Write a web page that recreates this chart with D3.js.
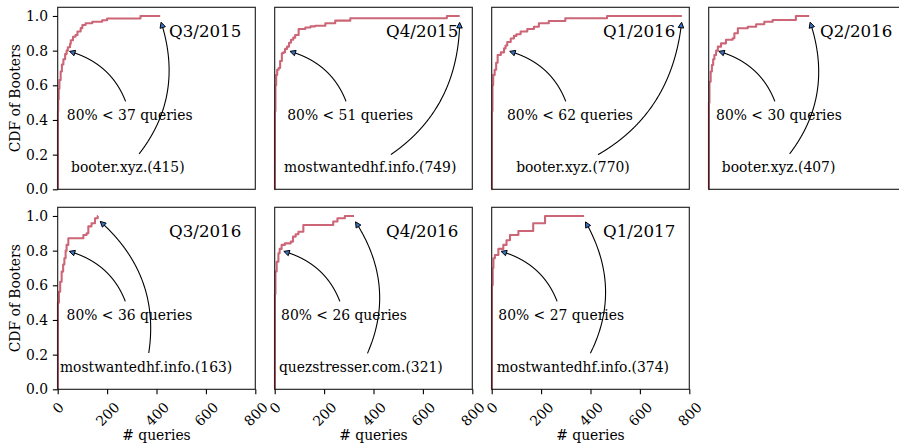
<!DOCTYPE html>
<html>
<head>
<meta charset="utf-8">
<script src="https://cdn.jsdelivr.net/npm/d3@7"></script>
<style>
  body { margin: 0; background: #fff; }
  svg text { font-family: "DejaVu Serif", serif; fill: #000; }
</style>
</head>
<body>
<svg id="fig" width="899" height="446"></svg>
<script>
// ---- data -------------------------------------------------------------
const quarters   = ["Q3/2015", "Q4/2015", "Q1/2016", "Q2/2016", "Q3/2016", "Q4/2016", "Q1/2017"];
const topDomains = ["booter.xyz.", "mostwantedhf.info.", "booter.xyz.", "booter.xyz.",
                    "mostwantedhf.info.", "quezstresser.com.", "mostwantedhf.info."];
const maxQueries = [415, 749, 770, 407, 163, 321, 374];
const p80Queries = [37, 51, 62, 30, 36, 26, 27];

// empirical CDF steps: [queries, fraction of booters]
const cdfQ3_2015 = [[0,0],[1,0.45],[2,0.52],[4,0.58],[7,0.63],[12,0.68],[17,0.72],[23,0.75],[30,0.78],
  [36,0.80],[41,0.82],[50,0.84],[53,0.86],[62,0.88],[72,0.89],[80,0.91],[93,0.93],[100,0.948],
  [113,0.958],[140,0.967],[180,0.975],[200,0.985],[335,1.0],[415,1.0]];
const cdfQ4_2015 = [[0,0],[1,0.45],[3,0.6],[6,0.66],[10,0.69],[16,0.70],[22,0.74],[29,0.785],[35,0.79],
  [42,0.81],[50,0.823],[58,0.845],[66,0.863],[75,0.875],[83,0.89],[97,0.925],[124,0.933],[145,0.94],
  [164,0.944],[205,0.958],[245,0.973],[306,0.987],[697,1.0],[749,1.0]];
const cdfQ1_2016 = [[0,0],[1,0.45],[3,0.6],[6,0.66],[12,0.69],[18,0.73],[24,0.775],[37,0.79],[50,0.813],
  [56,0.83],[63,0.85],[77,0.87],[90,0.885],[100,0.895],[117,0.91],[144,0.925],[171,0.938],[191,0.958],
  [231,0.971],[298,0.987],[467,1.0],[770,1.0]];
const cdfQ2_2016 = [[0,0],[1,0.5],[3,0.62],[8,0.68],[13,0.717],[18,0.75],[23,0.775],[30,0.80],[37,0.823],
  [50,0.842],[70,0.863],[97,0.871],[104,0.9],[118,0.929],[158,0.938],[192,0.952],[225,0.967],
  [259,0.977],[353,1.0],[407,1.0]];
const cdfQ3_2016 = [[0,0],[1,0.5],[5,0.563],[10,0.62],[16,0.679],[22,0.72],[27,0.756],[32,0.80],
  [36,0.833],[43,0.871],[104,0.89],[117,0.9],[124,0.94],[137,0.958],[151,0.987],[162,1.0],[163,1.0]];
const cdfQ4_2016 = [[0,0],[1,0.55],[3,0.68],[8,0.736],[15,0.785],[20,0.81],[28,0.833],[41,0.842],
  [65,0.852],[74,0.881],[85,0.895],[96,0.909],[116,0.948],[237,0.968],[254,0.987],[284,1.0],[321,1.0]];
const cdfQ1_2017 = [[0,0],[1,0.6],[4,0.7],[7,0.756],[13,0.775],[27,0.81],[47,0.833],[60,0.86],[74,0.89],
  [108,0.913],[168,0.958],[216,1.0],[374,1.0]];
const cdfSeries = [cdfQ3_2015, cdfQ4_2015, cdfQ1_2016, cdfQ2_2016, cdfQ3_2016, cdfQ4_2016, cdfQ1_2017];

const xTicks = [0, 200, 400, 600, 800];
const yTicks = [0, 0.2, 0.4, 0.6, 0.8, 1.0];

// ---- layout -----------------------------------------------------------
const PT = 100 / 72;                 // px per point
const panel = { left: 57.7, top: 7.3, w: 197.6, h: 182, dx: 217, dy: 200 };
const domainLabelX = [54, 38, 99, 53, 9, 17, 20];   // left edge of the domain label, in queries
const FS = 10 * PT, TITLE_FS = 12 * PT;
const lineColor = "#cc6677", headFill = "#3a74c6";

const svg = d3.select("#fig");
const x = d3.scaleLinear().domain([0, 800]).range([0, panel.w]);
const y = d3.scaleLinear().domain([0, 1.05]).range([panel.h, 0]);

const stepLine = d3.line().x(d => x(d[0])).y(d => y(d[1])).curve(d3.curveStepAfter);

// curved annotation arrow, matplotlib "arc3" style, clipped by the text box
function drawArrow(g, textNode, target, rad) {
  const bb = textNode.getBBox();
  const pad = 2 * PT, shrink = 2 * PT;
  const p0 = [bb.x + bb.width / 2, bb.y + bb.height / 2];
  const p2 = target;
  const mx = (p0[0] + p2[0]) / 2, my = (p0[1] + p2[1]) / 2;
  const ddx = p2[0] - p0[0], ddyUp = -(p2[1] - p0[1]);
  const c = [mx + rad * ddyUp, my + rad * ddx];
  const N = 600, pts = [];
  for (let i = 0; i <= N; i++) {
    const t = i / N, u = 1 - t;
    pts.push([u * u * p0[0] + 2 * u * t * c[0] + t * t * p2[0],
              u * u * p0[1] + 2 * u * t * c[1] + t * t * p2[1]]);
  }
  const inside = p => p[0] >= bb.x - pad && p[0] <= bb.x + bb.width + pad &&
                      p[1] >= bb.y - pad && p[1] <= bb.y + bb.height + pad;
  let s = 0;
  while (s < N && inside(pts[s])) s++;
  let acc = 0;
  while (s < N && acc < shrink) { acc += Math.hypot(pts[s + 1][0] - pts[s][0], pts[s + 1][1] - pts[s][1]); s++; }
  let e = N; acc = 0;
  while (e > s && acc < shrink) { acc += Math.hypot(pts[e][0] - pts[e - 1][0], pts[e][1] - pts[e - 1][1]); e--; }
  const tip = pts[e];
  // head direction
  let b = e; acc = 0;
  const headLen = 4 * PT, headHalf = 2 * PT;
  while (b > s && acc < headLen) { acc += Math.hypot(pts[b][0] - pts[b - 1][0], pts[b][1] - pts[b - 1][1]); b--; }
  const dir = [tip[0] - pts[b][0], tip[1] - pts[b][1]];
  const L = Math.hypot(dir[0], dir[1]) || 1;
  const ux = dir[0] / L, uy = dir[1] / L;
  const base = [tip[0] - ux * headLen, tip[1] - uy * headLen];
  g.append("path")
    .attr("d", d3.line()(pts.slice(s, b + 1).concat([base])))
    .attr("fill", "none").attr("stroke", "#000").attr("stroke-width", 1.1);
  g.append("path")
    .attr("d", d3.line()([tip, [base[0] - uy * headHalf, base[1] + ux * headHalf],
                          [base[0] + uy * headHalf, base[1] - ux * headHalf]]) + "Z")
    .attr("fill", headFill).attr("stroke", "#000").attr("stroke-width", 1).attr("stroke-linejoin", "miter");
}

quarters.forEach((q, i) => {
  const col = i % 4, row = Math.floor(i / 4);
  const g = svg.append("g")
    .attr("transform", `translate(${panel.left + col * panel.dx},${panel.top + row * panel.dy})`);

  // CDF curve
  g.append("path").datum(cdfSeries[i])
    .attr("d", stepLine)
    .attr("fill", "none").attr("stroke", lineColor).attr("stroke-width", 1.5 * PT)
    .attr("stroke-linejoin", "round");

  // frame
  g.append("rect").attr("width", panel.w).attr("height", panel.h)
    .attr("fill", "none").attr("stroke", "#1a1a1a").attr("stroke-width", 0.8 * PT);

  // y axis on the first column
  if (col === 0) {
    const ya = g.append("g").call(d3.axisLeft(y).tickValues(yTicks).tickFormat(d3.format(".1f"))
      .tickSize(3.5 * PT).tickPadding(3.5 * PT));
    ya.select(".domain").remove();
    ya.selectAll("line").attr("stroke", "#000").attr("stroke-width", 0.8 * PT);
    ya.selectAll("text").attr("font-size", FS).attr("font-family", "DejaVu Serif");
    g.append("text")
      .attr("transform", `translate(${-38.2},${panel.h / 2}) rotate(-90)`)
      .attr("text-anchor", "middle").attr("font-size", FS)
      .text("CDF of Booters");
  }

  // x axis on the bottom row
  if (row === 1) {
    const xa = g.append("g").attr("transform", `translate(0,${panel.h})`)
      .call(d3.axisBottom(x).tickValues(xTicks).tickFormat(d3.format("d")).tickSize(3.5 * PT));
    xa.select(".domain").remove();
    xa.selectAll("line").attr("stroke", "#000").attr("stroke-width", 0.8 * PT);
    xa.selectAll("text").each(function () {
      const t = d3.select(this);
      t.attr("font-size", FS).attr("font-family", "DejaVu Serif").attr("y", null).attr("dy", null);
      const w = this.getComputedTextLength(), h = FS * 1.164;
      const cy = 3.5 * PT + 3.5 * PT + (w + h) / (2 * Math.SQRT2);
      t.attr("text-anchor", "middle").attr("dominant-baseline", "central")
        .attr("transform", `translate(0,${cy}) rotate(-45)`);
    });
    g.append("text")
      .attr("x", panel.w / 2).attr("y", panel.h + 51)
      .attr("text-anchor", "middle").attr("font-size", FS)
      .text("# queries");
  }

  // quarter title
  g.append("text")
    .attr("x", panel.w - 14).attr("y", 29.4)
    .attr("text-anchor", "end").attr("font-size", TITLE_FS)
    .text(q);

  // 80th percentile note
  const pct = g.append("text")
    .attr("x", x(p80Queries[i])).attr("y", y(0.4))
    .attr("font-size", FS)
    .text(`80% < ${p80Queries[i]} queries`);
  drawArrow(g, pct.node(), [x(p80Queries[i]), y(0.8)], 0.3);

  // busiest domain note
  const dom = g.append("text")
    .attr("x", x(domainLabelX[i])).attr("y", y(0.1))
    .attr("font-size", FS)
    .text(`${topDomains[i]}(${maxQueries[i]})`);
  drawArrow(g, dom.node(), [x(maxQueries[i]), y(0.98)], 0.3);
});
</script>
</body>
</html>
